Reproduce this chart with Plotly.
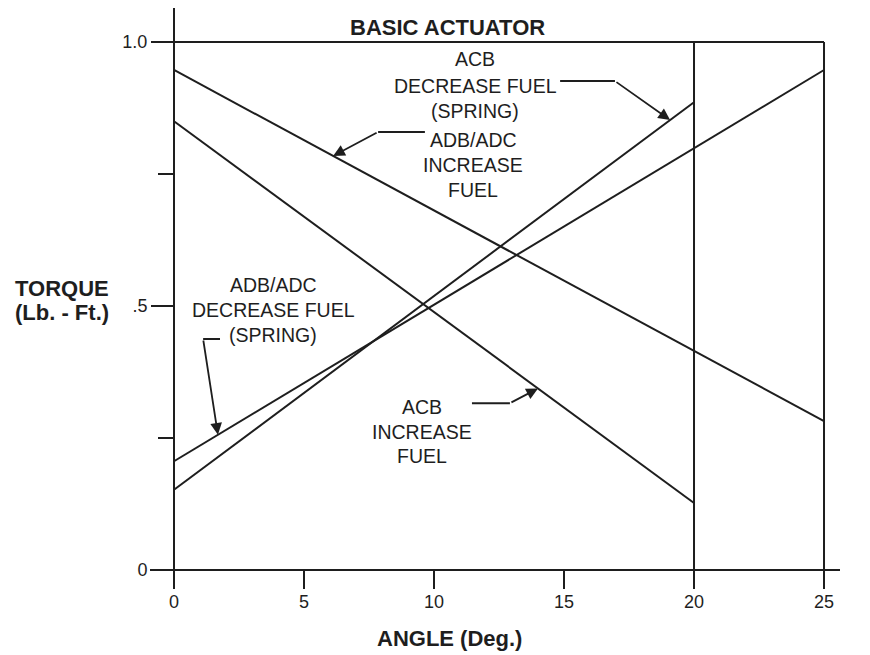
import numpy as np
import plotly.graph_objects as go

# ---------------- data ----------------
angle_acb = [0, 20]
acb_decrease_spring = [0.152, 0.886]
acb_increase = [0.850, 0.127]

angle_adb = [0, 25]
adb_decrease_spring = [0.206, 0.947]
adb_increase = [0.947, 0.282]

stop_angles = [20, 25]
max_torque = 1.0

x_ticks = [0, 5, 10, 15, 20, 25]
y_ticks = [0, 0.5, 1.0]
y_tick_text = ["0", ".5", "1.0"]
y_minor = [0.25, 0.75]

# ---------------- style ----------------
INK = "#1e1e1e"
FONT = "Liberation Sans, Arial, sans-serif"
W, H = 870, 655
L, R, T, B = 150, 30, 8, 70
x_range = [-0.923, 25.615]
y_range = [-0.0284, 1.0644]

fig = go.Figure()

series = [
    (angle_acb, acb_decrease_spring),
    (angle_acb, acb_increase),
    (angle_adb, adb_decrease_spring),
    (angle_adb, adb_increase),
]
for xs, ys in series:
    fig.add_trace(go.Scatter(x=xs, y=ys, mode="lines",
                             line=dict(color=INK, width=2),
                             hoverinfo="skip", showlegend=False))

# frame: top line and stop lines
fig.add_shape(type="line", x0=0, x1=stop_angles[-1], y0=max_torque, y1=max_torque,
              line=dict(color=INK, width=2))
for a in stop_angles:
    fig.add_shape(type="line", x0=a, x1=a, y0=0, y1=max_torque,
                  line=dict(color=INK, width=2))

def txt(x, y, s, size=19.5, bold=False, ref="data"):
    if bold:
        s = "<b>" + s + "</b>"
    kw = {}
    if ref == "paper":
        kw = dict(xref="paper", yref="paper")
    fig.add_annotation(x=x, y=y, text=s, showarrow=False, xanchor="center",
                       yanchor="middle", font=dict(family=FONT, size=size, color=INK), **kw)

def label(x, ys, lines):
    for y, s in zip(ys, lines):
        txt(x, y, s)

label(11.58, [0.968, 0.917, 0.869], ["ACB", "DECREASE FUEL", "(SPRING)"])
label(11.5, [0.814, 0.767, 0.720], ["ADB/ADC", "INCREASE", "FUEL"])
label(3.81, [0.540, 0.492, 0.445], ["ADB/ADC", "DECREASE FUEL", "(SPRING)"])
label(9.54, [0.309, 0.261, 0.216], ["ACB", "INCREASE", "FUEL"])

def pointer(stub_x0, stub_x1, stub_y, head_x, xs, ys):
    head_y = float(np.interp(head_x, xs, ys))
    fig.add_shape(type="line", x0=stub_x0, x1=stub_x1, y0=stub_y, y1=stub_y,
                  line=dict(color=INK, width=2))
    fig.add_annotation(x=head_x, y=head_y, ax=stub_x1, ay=stub_y,
                       axref="x", ayref="y", xref="x", yref="y",
                       text="", showarrow=True, arrowhead=2, arrowsize=1.3,
                       arrowwidth=1.8, arrowcolor=INK, standoff=0, startstandoff=0)

pointer(14.85, 16.96, 0.926, 19.08, angle_acb, acb_decrease_spring)
pointer(9.65, 7.85, 0.8295, 6.12, angle_adb, adb_increase)
pointer(1.77, 1.12, 0.4375, 1.69, angle_adb, adb_decrease_spring)
pointer(11.46, 12.92, 0.316, 14.0, angle_acb, acb_increase)

# titles (paper coords so they are not hidden outside the axis range)
def paper(px, py):
    return (px - L) / (W - L - R), (H - B - py) / (H - T - B)

txt(10.5, 1.028, "BASIC ACTUATOR", size=22, bold=True)
px_, py_ = paper(62, 288)
txt(px_, py_, "TORQUE", size=22, bold=True, ref="paper")
px_, py_ = paper(62, 312)
txt(px_, py_, "(Lb. - Ft.)", size=22, bold=True, ref="paper")
px_, py_ = paper(449, 638)
txt(px_, py_, "ANGLE (Deg.)", size=22, bold=True, ref="paper")

x_pos = (0 - y_range[0]) / (y_range[1] - y_range[0])
y_pos = (0 - x_range[0]) / (x_range[1] - x_range[0])

fig.update_layout(
    width=W, height=H,
    margin=dict(l=L, r=R, t=T, b=B),
    paper_bgcolor="white", plot_bgcolor="white",
    showlegend=False,
    xaxis=dict(range=x_range, anchor="free", position=x_pos,
               showgrid=False, zeroline=False, showline=True,
               linecolor=INK, linewidth=2,
               tickmode="array", tickvals=x_ticks, ticks="outside",
               ticklen=18, tickwidth=2, tickcolor=INK, ticklabelstandoff=-3,
               tickfont=dict(family=FONT, size=18, color=INK)),
    yaxis=dict(range=y_range, anchor="free", position=y_pos,
               showgrid=False, zeroline=False, showline=True,
               linecolor=INK, linewidth=2,
               tickmode="array", tickvals=y_ticks, ticktext=y_tick_text,
               ticks="outside", ticklen=22, tickwidth=2, tickcolor=INK,
               tickfont=dict(family=FONT, size=18, color=INK),
               minor=dict(tickvals=y_minor, ticks="outside", ticklen=15,
                          tickwidth=2, tickcolor=INK)),
)

fig.write_html("out.html", config={"displayModeBar": False},
               post_script="document.body.style.margin='0';")
